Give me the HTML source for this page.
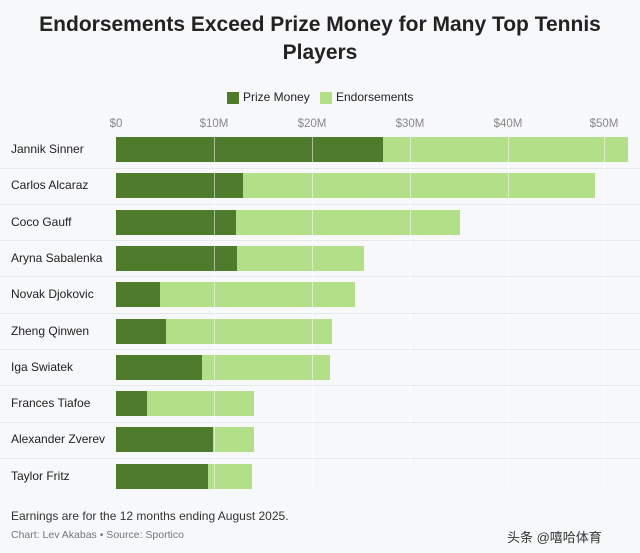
<!DOCTYPE html>
<html><head><style>
body{margin:0;width:640px;height:553px;background:#f7f8fa;font-family:"Liberation Sans","Noto Sans CJK SC",sans-serif;position:relative;overflow:hidden;color:#222}
.t{position:absolute;left:0;width:640px;text-align:center;font-weight:bold;font-size:21px;line-height:28px;top:11px;color:#222}
.a{position:absolute}
.lbl{position:absolute;left:11px;font-size:12px;color:#222}
.tick{position:absolute;top:118px;font-size:11.5px;color:#888;transform:translateX(-50%)}
.d{position:absolute;background:#4e7c2c}
.l{position:absolute;background:#b3df89}
.g{position:absolute;top:133px;height:360px;width:1px;background:rgba(255,255,255,.5)}
.sep{position:absolute;left:0;width:640px;height:1px;background:#e6e8ea}
</style></head><body>
<div class="t">Endorsements Exceed Prize Money for Many Top Tennis<br>Players</div>
<div class="a" style="left:227px;top:92px;width:12px;height:12px;background:#4e7c2c"></div>
<div class="a" style="left:243px;top:90px;font-size:12px">Prize Money</div>
<div class="a" style="left:320px;top:92px;width:12px;height:12px;background:#b3df89"></div>
<div class="a" style="left:336px;top:90px;font-size:12px">Endorsements</div>
<div class="tick" style="left:116px">$0</div>
<div class="tick" style="left:214px">$10M</div>
<div class="tick" style="left:312px">$20M</div>
<div class="tick" style="left:410px">$30M</div>
<div class="tick" style="left:508px">$40M</div>
<div class="tick" style="left:604px">$50M</div>
<div id="rows"></div>
<div class="a" style="left:11px;top:509px;font-size:12px;color:#333">Earnings are for the 12 months ending August 2025.</div>
<div class="a" style="left:11px;top:529px;font-size:10.5px;color:#777">Chart: Lev Akabas • Source: Sportico</div>
<div class="a" style="left:507px;top:527px;font-size:13px;color:#333">头条 @嘻哈体育</div>
<script>
var d=[["Jannik Sinner",383,628],["Carlos Alcaraz",243,595],["Coco Gauff",236,460],["Aryna Sabalenka",237,364],["Novak Djokovic",160,355],["Zheng Qinwen",166,332],["Iga Swiatek",202,330],["Frances Tiafoe",147,254],["Alexander Zverev",213,254],["Taylor Fritz",208,252]];
var h="";d.forEach(function(r,i){var y=137+i*36.3;
h+='<div class="lbl" style="top:'+(y+5)+'px">'+r[0]+'</div>';
h+='<div class="d" style="left:116px;top:'+y+'px;width:'+(r[1]-116)+'px;height:25px"></div>';
h+='<div class="l" style="left:'+r[1]+'px;top:'+y+'px;width:'+(r[2]-r[1])+'px;height:25px"></div>';
if(i<9)h+='<div class="sep" style="top:'+(y+30.5)+'px"></div>';});
[214,312,410,508,604].forEach(function(x){h+='<div class="g" style="left:'+x+'px"></div>'});
document.getElementById("rows").innerHTML=h;
</script>
</body></html>
